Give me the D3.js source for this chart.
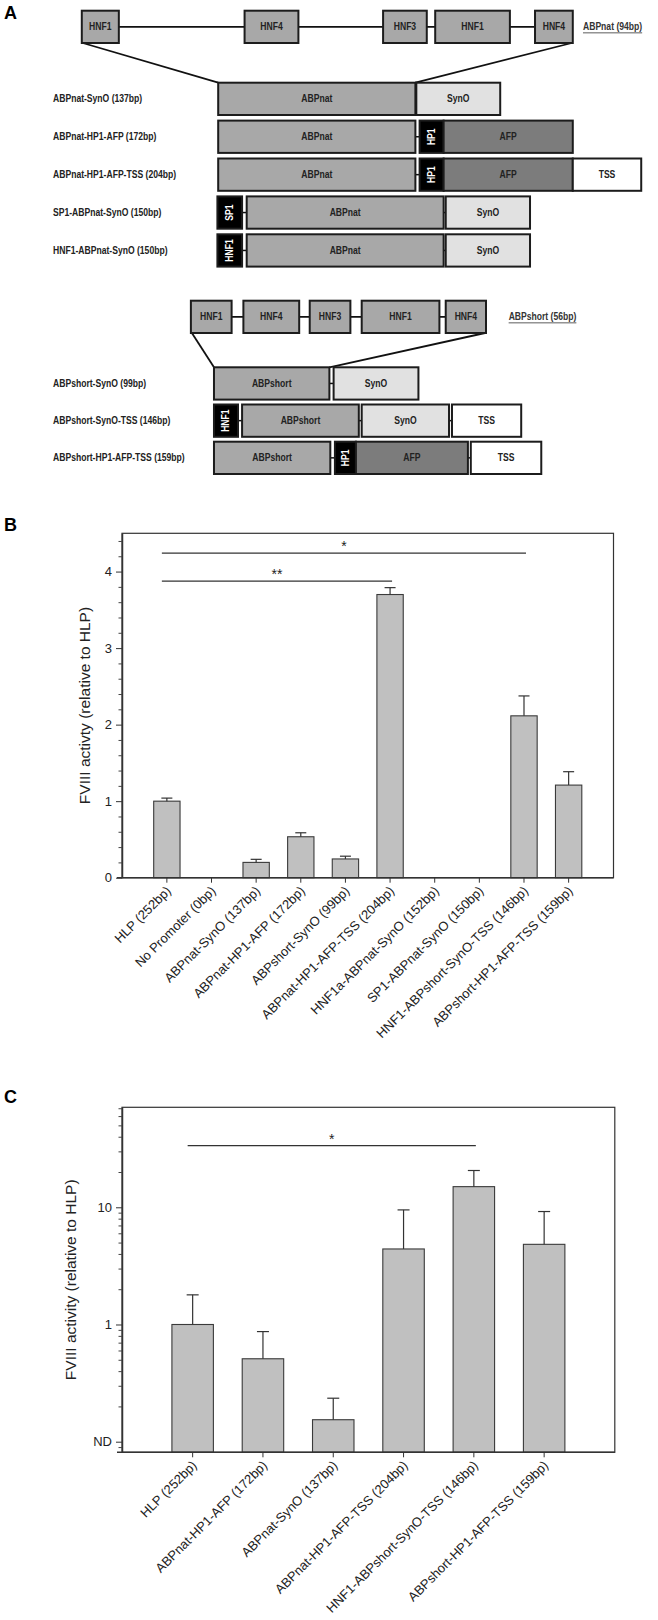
<!DOCTYPE html>
<html>
<head>
<meta charset="utf-8">
<script src="https://cdn.jsdelivr.net/npm/d3@7"></script>
<style>
body{margin:0;background:#fff}
svg text{font-family:Arial,'Liberation Sans',sans-serif}
.diag text{font-family:'Liberation Sans',Arial,sans-serif;font-weight:bold}
</style>
</head>
<body>
<div id="root"></div>
<script>
// ---------- panel A : promoter constructs (x in % of page width)
var topNat=[['HNF1',12.43,18.06],['HNF4',37.17,45.35],['HNF3',58.22,64.86],['HNF1',66.14,77.49],['HNF4',81.31,87.05]];
var rowsNat=[
 {label:'ABPnat-SynO (137bp)',parts:[['ABPnat','core',33.16,63.13],['SynO','syn',63.27,76.02]]},
 {label:'ABPnat-HP1-AFP (172bp)',parts:[['ABPnat','core',33.16,63.13],['HP1','blk',63.77,67.42],['AFP','afp',67.42,87.05]]},
 {label:'ABPnat-HP1-AFP-TSS (204bp)',parts:[['ABPnat','core',33.16,63.13],['HP1','blk',63.77,67.42],['AFP','afp',67.42,87.05],['TSS','tss',87.05,97.45]]},
 {label:'SP1-ABPnat-SynO (150bp)',parts:[['SP1','blk',33.04,36.79],['ABPnat','core',37.49,67.42],['SynO','syn',67.74,80.55]]},
 {label:'HNF1-ABPnat-SynO (150bp)',parts:[['HNF1','blk',33.04,36.79],['ABPnat','core',37.49,67.42],['SynO','syn',67.74,80.55]]}
];
var topShort=[['HNF1',29.01,35.20],['HNF4',36.99,45.47],['HNF3',47.07,53.25],['HNF1',54.97,66.78],['HNF4',67.74,73.86]];
var rowsShort=[
 {label:'ABPshort-SynO (99bp)',parts:[['ABPshort','core',32.52,50.06],['SynO','syn',50.70,63.59]]},
 {label:'ABPshort-SynO-TSS (146bp)',parts:[['HNF1','blk',32.52,36.17],['ABPshort','core',36.79,54.53],['SynO','syn',54.97,68.24],['TSS','tss',68.69,79.21]]},
 {label:'ABPshort-HP1-AFP-TSS (159bp)',parts:[['ABPshort','core',32.52,50.20],['HP1','blk',50.90,54.09],['AFP','afp',54.09,71.11],['TSS','tss',71.55,82.26]]}
];

// ---------- panel B : FVIII activity, linear
var catsB=['HLP (252bp)','No Promoter (0bp)','ABPnat-SynO (137bp)','ABPnat-HP1-AFP (172bp)','ABPshort-SynO (99bp)','ABPnat-HP1-AFP-TSS (204bp)','HNF1a-ABPnat-SynO (152bp)','SP1-ABPnat-SynO (150bp)','HNF1-ABPshort-SynO-TSS (146bp)','ABPshort-HP1-AFP-TSS (159bp)'];
var valsB=[1.0,0,0.20,0.535,0.245,3.70,0,0,2.115,1.21];
var errB=[0.04,0,0.04,0.052,0.036,0.09,0,0,0.26,0.175];
var ticksB=[0,1,2,3,4];
var sigB=[{from:0,to:8,y:4.24,text:'*'},{from:0,to:5,y:3.875,text:'**'}];

// ---------- panel C : FVIII activity, log
var catsC=['HLP (252bp)','ABPnat-HP1-AFP (172bp)','ABPnat-SynO (137bp)','ABPnat-HP1-AFP-TSS (204bp)','HNF1-ABPshort-SynO-TSS (146bp)','ABPshort-HP1-AFP-TSS (159bp)'];
var valsC=[1.0,0.51,0.154,4.41,15.0,4.83];
var errC=[0.79,0.36,0.081,5.09,5.6,4.37];
var ticksC=[0.1,1,10];
var tickLabelsC=['ND','1','10'];
var sigC=[{from:0,to:4,y:33.6,text:'*'}];

var W=658,H=1620;
var svg=d3.select('#root').append('svg').attr('width',W).attr('height',H);

// panel letters
[['A',19],['B',531],['C',1103]].forEach(function(p){
  svg.append('text').attr('x',4).attr('y',p[1]).text(p[0])
    .style('font-size','18px').style('font-weight','bold');
});

//---------------- panel A
var dx=d3.scaleLinear().domain([0,100]).range([0,W]);
var fills={tf:'#a8a8a8',core:'#a8a8a8',syn:'#e1e1e1',afp:'#7c7c7c',tss:'#ffffff',blk:'#000000'};
var sq=0.86; // condensed look
var gA=svg.append('g').attr('class','diag');

function drawBox(g,name,type,x0,x1,y,h){
  g.append('rect').attr('x',dx(x0)).attr('y',y).attr('width',dx(x1)-dx(x0)).attr('height',h)
    .attr('fill',fills[type]).attr('stroke','#1c1c1c').attr('stroke-width',2);
  var cx=(dx(x0)+dx(x1))/2, cy=y+h/2;
  if(type=='blk'){
    g.append('text').attr('transform','translate('+(cx+3.5)+','+cy+') rotate(-90) scale('+sq+',1)')
      .attr('text-anchor','middle').attr('fill','#fff').style('font-size','10px').text(name);
  }else{
    g.append('text').attr('transform','translate('+cx+','+cy+') scale('+sq+',1)').attr('dy','0.35em')
      .attr('text-anchor','middle').attr('fill','#222').style('font-size','10px').text(name);
  }
}

function drawBlock(top,rows,y0,rowsY0,step,h,title,titleX){
  var g=gA.append('g');
  // backbone
  g.append('line').attr('x1',dx(top[0][1])).attr('x2',dx(top[top.length-1][2]))
    .attr('y1',y0+h/2).attr('y2',y0+h/2).attr('stroke','#111').attr('stroke-width',1.6);
  // fan lines to first construct core
  var core=rows[0].parts[0];
  g.append('line').attr('x1',dx(top[0][1])+1).attr('y1',y0+h).attr('x2',dx(core[2])).attr('y2',rowsY0)
    .attr('stroke','#111').attr('stroke-width',1.8);
  g.append('line').attr('x1',dx(top[top.length-1][2])-1).attr('y1',y0+h).attr('x2',dx(core[3])).attr('y2',rowsY0)
    .attr('stroke','#111').attr('stroke-width',1.8);
  top.forEach(function(t){drawBox(g,t[0],'tf',t[1],t[2],y0,h);});
  var tt=g.append('text').attr('transform','translate('+dx(titleX)+','+(y0+h/2)+') scale('+sq+',1)').attr('dy','0.35em')
    .attr('fill','#333').style('font-size','10px').text(title);
  var len=tt.node().getComputedTextLength()*sq;
  g.append('line').attr('x1',dx(titleX)).attr('x2',dx(titleX)+len)
    .attr('y1',y0+h/2+6).attr('y2',y0+h/2+6).attr('stroke','#333').attr('stroke-width',0.8);

  rows.forEach(function(r,i){
    var y=rowsY0+i*step;
    g.append('text').attr('transform','translate(53,'+(y+h/2)+') scale('+sq+',1)').attr('dy','0.35em')
      .attr('fill','#222').style('font-size','10px').text(r.label);
    r.parts.forEach(function(p,j){
      if(j>0 && p[2]-r.parts[j-1][3]>0.3){
        g.append('line').attr('x1',dx(r.parts[j-1][3])).attr('x2',dx(p[2]))
          .attr('y1',y+h/2).attr('y2',y+h/2).attr('stroke','#111').attr('stroke-width',1.5);
      }
    });
    r.parts.forEach(function(p){drawBox(g,p[0],p[1],p[2],p[3],y,h);});
  });
}
drawBlock(topNat,rowsNat,10.7,82.7,37.9,32.3,'ABPnat (94bp)',88.6);
drawBlock(topShort,rowsShort,300.7,367.3,37.2,32.3,'ABPshort (56bp)',77.3);

//---------------- bar chart helper
function barPanel(o){
  var g=svg.append('g');
  var x=d3.scaleBand().domain(o.cats).range([o.left,o.right]).paddingInner(0.41).paddingOuter(0.71);
  var y=o.y;
  var bw=x.bandwidth();
  // bars
  var idx=d3.range(o.cats.length).filter(function(i){return o.vals[i]>0;});
  g.selectAll('rect.bar').data(idx).enter().append('rect').attr('class','bar')
    .attr('x',function(i){return x(o.cats[i]);})
    .attr('y',function(i){return y(o.vals[i]);})
    .attr('width',bw)
    .attr('height',function(i){return o.bottom-y(o.vals[i]);})
    .attr('fill','#c0c0c0').attr('stroke','#3a3a3a').attr('stroke-width',1.1);
  // error bars (upper)
  idx.forEach(function(i){
    var cx=x(o.cats[i])+bw/2, y1=y(o.vals[i]), y2=y(o.vals[i]+o.errs[i]);
    g.append('line').attr('x1',cx).attr('x2',cx).attr('y1',y1).attr('y2',y2).attr('stroke','#333').attr('stroke-width',1.2);
    g.append('line').attr('x1',cx-o.cap/2).attr('x2',cx+o.cap/2).attr('y1',y2).attr('y2',y2).attr('stroke','#333').attr('stroke-width',1.2);
  });
  // frame
  g.append('rect').attr('x',o.left).attr('y',o.top).attr('width',o.right-o.left).attr('height',o.bottom-o.top)
    .attr('fill','none').attr('stroke','#333').attr('stroke-width',1.2);
  // y axis
  var yAxis=d3.axisLeft(y).tickValues(o.ticks).tickSize(6).tickSizeOuter(0).tickPadding(4).tickFormat(o.fmt);
  var ya=g.append('g').attr('transform','translate('+o.left+',0)').call(yAxis);
  ya.select('.domain').attr('stroke','#333').attr('stroke-width',1.5);
  ya.selectAll('.tick line').attr('stroke','#333');
  ya.selectAll('.tick text').style('font-size','13px').style('font-family','Arial,Liberation Sans').attr('fill','#222');
  var ym=g.append('g').attr('transform','translate('+o.left+',0)')
    .call(d3.axisLeft(y).tickValues(o.minor).tickSize(3.5).tickSizeOuter(0).tickFormat(''));
  ym.select('.domain').remove();
  ym.selectAll('.tick line').attr('stroke','#444');
  // x axis
  var xa=g.append('g').attr('transform','translate(0,'+o.bottom+')')
    .call(d3.axisBottom(x).tickSize(5).tickSizeOuter(0).tickFormat(''));
  xa.select('.domain').attr('stroke','#333').attr('stroke-width',1.5)
    .attr('d','M'+(o.left-5)+',0H'+o.right);
  xa.selectAll('.tick line').attr('stroke','#333');
  g.selectAll('text.xl').data(o.cats).enter().append('text').attr('class','xl')
    .attr('transform',function(d){return 'translate('+(x(d)+bw/2+5)+','+(o.bottom+14)+') rotate(-45)';})
    .attr('text-anchor','end').attr('fill','#222').style('font-size','13px').text(function(d){return d;});
  // y title
  g.append('text').attr('transform','translate('+o.titleX+','+((o.top+o.bottom)/2)+') rotate(-90)')
    .attr('text-anchor','middle').attr('fill','#222').style('font-size','15.5px').text(o.title);
  // significance
  o.sig.forEach(function(s){
    var x1=x(o.cats[s.from])+bw/2-5, x2=x(o.cats[s.to])+bw/2+2, yy=y(s.y);
    g.append('line').attr('x1',x1).attr('x2',x2).attr('y1',yy).attr('y2',yy).attr('stroke','#333').attr('stroke-width',1.2);
    g.append('text').attr('x',(x1+x2)/2).attr('y',yy-2).attr('text-anchor','middle')
      .attr('fill','#222').style('font-size','14px').text(s.text);
  });
}

var yB=d3.scaleLinear().domain([0,4.5]).range([877.7,533.3]);
barPanel({cats:catsB,vals:valsB,errs:errB,y:yB,left:122,right:613.5,top:533.3,bottom:877.7,
  ticks:ticksB,minor:d3.range(0.2,4.5,0.2).filter(function(v){return Math.abs(v-Math.round(v))>0.01;}),
  fmt:d3.format('d'),cap:11,titleX:90,title:'FVIII activty (relative to HLP)',sig:sigB});

var yC=d3.scaleLog().domain([0.0812,71.3]).range([1452.3,1107.3]);
var minorC=[];
[0.01,0.1,1,10].forEach(function(d){d3.range(2,10).forEach(function(k){var v=k*d;if(v>=0.0812&&v<=71.3)minorC.push(v);});});
barPanel({cats:catsC,vals:valsC,errs:errC,y:yC,left:122,right:614.8,top:1107.3,bottom:1452.3,
  ticks:ticksC,minor:minorC,fmt:function(d,i){return tickLabelsC[i];},cap:12,titleX:76,
  title:'FVIII activity (relative to HLP)',sig:sigC});
</script>
</body>
</html>
